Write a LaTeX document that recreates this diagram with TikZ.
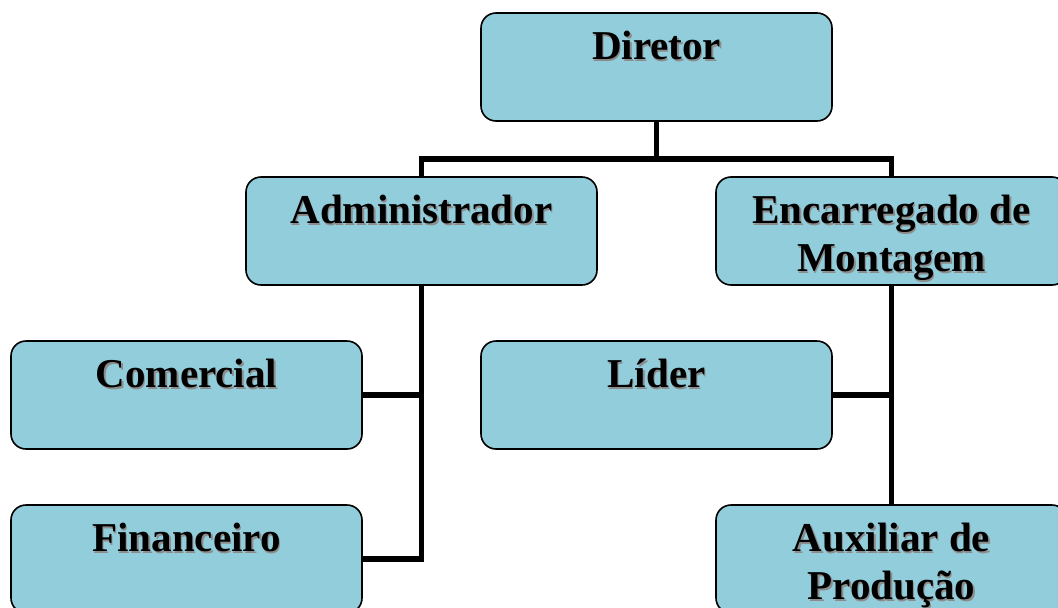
\documentclass[tikz,border=0pt]{standalone}
\usepackage{fontspec}
\setmainfont{Liberation Serif}
\usepackage{xcolor}
\usetikzlibrary{positioning}
\definecolor{boxblue}{HTML}{92CDDC}
\definecolor{shadowgray}{HTML}{8C8C8C}
\tikzset{
  box/.style={draw=black, line width=1.6pt, fill=boxblue, rounded corners=15pt,
    minimum width=351pt, minimum height=108pt, inner sep=0pt},
  lbl/.style={anchor=north, inner sep=0pt, align=center,
    font=\fontsize{41}{48}\selectfont\bfseries},
  conn/.style={draw=black, line width=5.5pt}
}
\newcommand{\boxlabel}[3]{%
  \node[lbl, text=shadowgray] (#1s) at ([xshift=1.4pt,yshift=-20.4pt]#2.north) {#3};
  \node[lbl] (#1) at ([yshift=-19pt]#2.north) {#3};
}

\begin{document}
\begin{tikzpicture}[x=1pt, y=-1pt]
\useasboundingbox (0,0) rectangle (1058,608);
\clip (0,0) rectangle (1058,608);
% boxes
\node[box] (dir) at (656.5,67) {};
\node[box] (adm) at (421.5,231) {};
\node[box] (enc) at (891.5,231) {};
\node[box] (com) at (186.5,395) {};
\node[box] (lid) at (656.5,395) {};
\node[box] (fin) at (186.5,559) {};
\node[box] (aux) at (891.5,559) {};
% texts
\boxlabel{dirtxt}{dir}{Diretor}
\boxlabel{admtxt}{adm}{Administrador}
\boxlabel{enctxt}{enc}{Encarregado de\\Montagem}
\boxlabel{comtxt}{com}{Comercial}
\boxlabel{lidtxt}{lid}{Líder}
\boxlabel{fintxt}{fin}{Financeiro}
\boxlabel{auxtxt}{aux}{Auxiliar de\\Produção}
% connectors
\draw[conn] (dir.south) -- ++(0,37) coordinate (bus);
\draw[conn] (adm.north) |- (bus) -| (enc.north);
\draw[conn] (adm.south) |- (fin.east);
\draw[conn] (com.east) -- (com.east -| adm.south);
\draw[conn] (enc.south) -- (aux.north);
\draw[conn] (lid.east) -- (lid.east -| enc.south);
\end{tikzpicture}
\end{document}
